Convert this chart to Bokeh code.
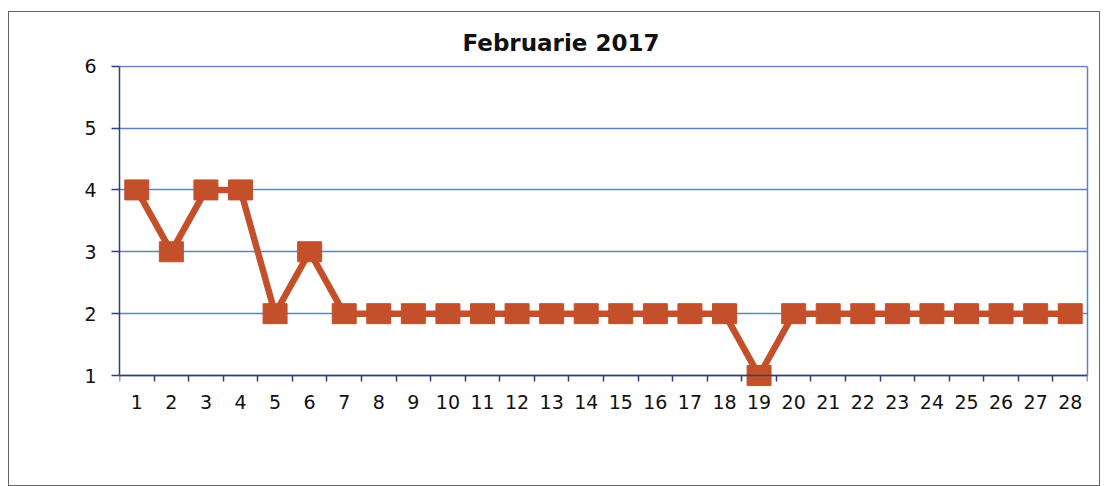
from bokeh.plotting import figure
from bokeh.models import FixedTicker, LinearAxis, Range1d, Grid
from bokeh.embed import file_html
from bokeh.resources import INLINE

days = list(range(1, 29))
values = [4, 3, 4, 4, 2, 3, 2, 2, 2, 2, 2, 2, 2, 2, 2, 2, 2, 2, 1, 2, 2, 2, 2, 2, 2, 2, 2, 2]
y_ticks = [1, 2, 3, 4, 5, 6]
title_text = "Februarie 2017"

SERIES = "#c4502b"
GRID = "#5f82bd"
AXIS = "#2f3f72"
FONT = "DejaVu Sans"

p = figure(width=1092, height=475, output_backend="svg", toolbar_location=None,
           x_range=Range1d(0.5, 28.5), y_range=Range1d(0.258, 6.01),
           min_border_left=110, min_border_right=14, min_border_top=53, min_border_bottom=66,
           x_axis_type=None, y_axis_type=None,
           styles={"border": "1px solid #666666", "margin-left": "8px", "margin-top": "11px"})

p.title.text = title_text
p.title.text_font = FONT
p.title.text_font_size = "23px"
p.title.text_font_style = "bold"
p.title.text_color = "#111111"
p.title.align = "left"
p.title.offset = 343
p.title.standoff = 19

p.outline_line_color = None
p.background_fill_color = "white"
p.border_fill_color = "white"

# x axis (category style: ticks between days), drawn at y = 1
xaxis = LinearAxis(ticker=FixedTicker(ticks=days, minor_ticks=[d - 0.5 for d in days] + [28.5]),
                   fixed_location=1)
xaxis.axis_line_color = AXIS
xaxis.axis_line_width = 1.5
xaxis.major_tick_line_color = None
xaxis.major_tick_out = 0
xaxis.major_tick_in = 0
xaxis.minor_tick_line_color = AXIS
xaxis.minor_tick_line_width = 1.5
xaxis.minor_tick_out = 6
xaxis.minor_tick_in = 0
xaxis.major_label_standoff = 13
xaxis.major_label_text_font = FONT
xaxis.major_label_text_font_size = "19px"
xaxis.major_label_text_color = "#111111"
p.add_layout(xaxis, "below")

# y axis
yaxis = LinearAxis(ticker=FixedTicker(ticks=y_ticks), bounds=(1, 6))
yaxis.axis_line_color = AXIS
yaxis.axis_line_width = 1.5
yaxis.major_tick_line_color = AXIS
yaxis.major_tick_line_width = 1.5
yaxis.major_tick_out = 8
yaxis.major_tick_in = 0
yaxis.minor_tick_line_color = None
yaxis.major_label_standoff = 15
yaxis.major_label_text_font = FONT
yaxis.major_label_text_font_size = "19px"
yaxis.major_label_text_color = "#111111"
p.add_layout(yaxis, "left")

# right edge of plot area
raxis = LinearAxis(ticker=FixedTicker(ticks=[]), bounds=(1, 6))
raxis.axis_line_color = GRID
raxis.axis_line_width = 1.5
raxis.major_label_text_font_size = "0px"
raxis.major_tick_line_color = None
raxis.minor_tick_line_color = None
p.add_layout(raxis, "right")

p.add_layout(Grid(dimension=1, ticker=yaxis.ticker, grid_line_color=GRID, grid_line_width=1.5))

p.line(days, values, line_color=SERIES, line_width=6.5)
p.rect(days, values, width=24, height=20, width_units="screen", height_units="screen",
       fill_color=SERIES, line_color=SERIES)

open("out.html", "w").write(file_html(p, INLINE))
